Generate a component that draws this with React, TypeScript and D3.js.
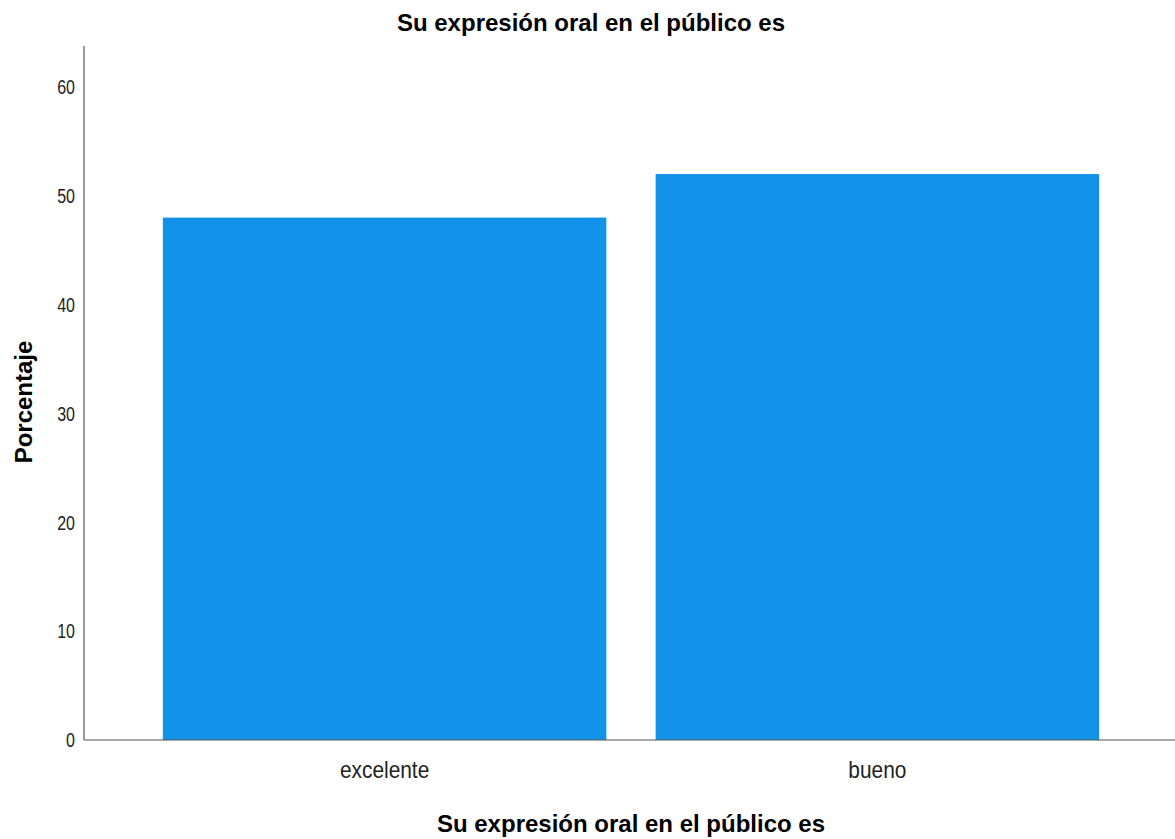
import React from "react";
import * as d3 from "d3";

const categories = ["excelente", "bueno"];
const values = [48, 52];
const yTicks = [0, 10, 20, 30, 40, 50, 60];
const title = "Su expresión oral en el público es";
const xTitle = "Su expresión oral en el público es";
const yTitle = "Porcentaje";

const W = 1175;
const H = 839;
const left = 84;
const right = 1178;
const y0 = 740;
const yTop = 46;

export default function App() {
  const x = d3.scaleBand<string>().domain(categories).range([left, right]).paddingInner(0.1).paddingOuter(0.16);
  const y = d3.scaleLinear().domain([0, 60]).range([y0, 87]);
  const font = "'Liberation Sans', Arial, sans-serif";
  return (
    <svg width={W} height={H} style={{ position: "absolute", left: 0, top: 0, background: "#fff" }}>
      <text x={591} y={31} textAnchor="middle" fontFamily={font} fontWeight="bold" fontSize={24} fill="#000">{title}</text>
      {categories.map((c, i) => (
        <rect key={c} x={x(c)!} y={y(values[i])} width={x.bandwidth()} height={y0 - y(values[i])} fill="#1192e8" />
      ))}
      <line x1={left} x2={left} y1={yTop} y2={y0} stroke="#555" strokeWidth={1.2} />
      <line x1={left} x2={W} y1={y0} y2={y0} stroke="#555" strokeWidth={1.2} />
      {yTicks.map((t) => (
        <text key={t} transform={`translate(75,${y(t)}) scale(0.8,1)`} dy="0.36em" textAnchor="end" fontFamily={font} fontSize={20} fill="#222">{t}</text>
      ))}
      {categories.map((c) => (
        <text key={c} transform={`translate(${x(c)! + x.bandwidth() / 2},778) scale(0.87,1)`} textAnchor="middle" fontFamily={font} fontSize={24} fill="#222">{c}</text>
      ))}
      <text x={631} y={832} textAnchor="middle" fontFamily={font} fontWeight="bold" fontSize={24} fill="#000">{xTitle}</text>
      <text transform={`translate(32,402) rotate(-90)`} textAnchor="middle" fontFamily={font} fontWeight="bold" fontSize={24} fill="#000">{yTitle}</text>
    </svg>
  );
}
